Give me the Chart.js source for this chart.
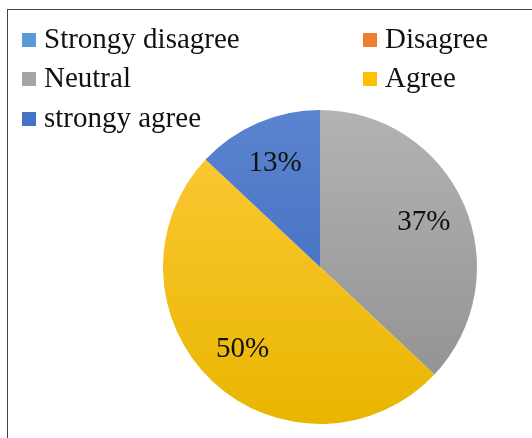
<!DOCTYPE html>
<html>
<head>
<meta charset="utf-8">
<script src="https://cdn.jsdelivr.net/npm/chart.js@4"></script>
<style>
  html, body { margin: 0; padding: 0; background: #fff; }
  #wrap { position: relative; width: 532px; height: 438px; overflow: hidden; }
  #frame { position: absolute; left: 7px; top: 9px; width: 540px; height: 440px;
           border-left: 1px solid #444; border-top: 1px solid #444; }
  #chart { position: absolute; left: 0; top: 0; }
  .legend { position: absolute; font-family: "Liberation Serif", "Times New Roman", serif;
            font-size: 29px; color: #111; white-space: nowrap; line-height: 30px; }
  .legend span.box { display: inline-block; width: 14px; height: 14px; margin-right: 8px;
                     vertical-align: 1px; }
</style>
</head>
<body>
<div id="wrap">
  <div id="frame"></div>
  <canvas id="chart" width="532" height="438"></canvas>
</div>
<script>
// categories and values (percent)
const labels = ["Strongy disagree", "Disagree", "Neutral", "Agree", "strongy agree"];
const values = [0, 0, 37, 50, 13];
const legendColors = ["#5B9BD5", "#ED7D31", "#A5A5A5", "#FFC000", "#4472C4"];
// top / bottom shades for the slices' vertical gradient
const topShades = ["#6aa6dd", "#f08a45", "#b3b3b3", "#ffc93a", "#5a84cf"];
const bottomShades = ["#4f8fcc", "#e07028", "#8e8e8e", "#e8b600", "#3a66bd"];

// legend in two columns, like the office layout
const legendPos = [[22, 23], [363, 23], [22, 62], [363, 62], [22, 102]];
const wrap = document.getElementById("wrap");
labels.forEach((name, i) => {
    const d = document.createElement("div");
    d.className = "legend";
    d.style.left = legendPos[i][0] + "px";
    d.style.top = legendPos[i][1] + "px";
    d.innerHTML = '<span class="box" style="background:' + legendColors[i] + '"></span>' + name;
    wrap.appendChild(d);
});

function sliceFill(context) {
    const chart = context.chart;
    const area = chart.chartArea;
    const i = context.dataIndex;
    if (!area) return legendColors[i];
    const g = chart.ctx.createLinearGradient(0, area.top, 0, area.bottom);
    g.addColorStop(0, topShades[i]);
    g.addColorStop(1, bottomShades[i]);
    return g;
}

// percent labels inside each slice
const pctLabels = {
    id: "pctLabels",
    afterDatasetsDraw(chart) {
        const ctx = chart.ctx;
        const meta = chart.getDatasetMeta(0);
        ctx.save();
        ctx.font = '29px "Liberation Serif", serif';
        ctx.fillStyle = "#111";
        ctx.textAlign = "center";
        ctx.textBaseline = "middle";
        meta.data.forEach((arc, i) => {
            if (!values[i]) return;
            const p = arc.getProps(["x", "y", "startAngle", "endAngle", "outerRadius"], true);
            const mid = (p.startAngle + p.endAngle) / 2;
            const r = p.outerRadius * 0.72;
            ctx.fillText(values[i] + "%", p.x + Math.cos(mid) * r, p.y + Math.sin(mid) * r);
        });
        ctx.restore();
    }
};

new Chart(document.getElementById("chart"), {
    type: "pie",
    data: {
        labels: labels,
        datasets: [{
            data: values,
            backgroundColor: sliceFill,
            borderWidth: 0
        }]
    },
    options: {
        responsive: false,
        animation: false,
        layout: { padding: { left: 163, right: 55, top: 110, bottom: 14 } },
        plugins: {
            legend: { display: false },
            tooltip: { enabled: false }
        }
    },
    plugins: [pctLabels]
});
</script>
</body>
</html>
